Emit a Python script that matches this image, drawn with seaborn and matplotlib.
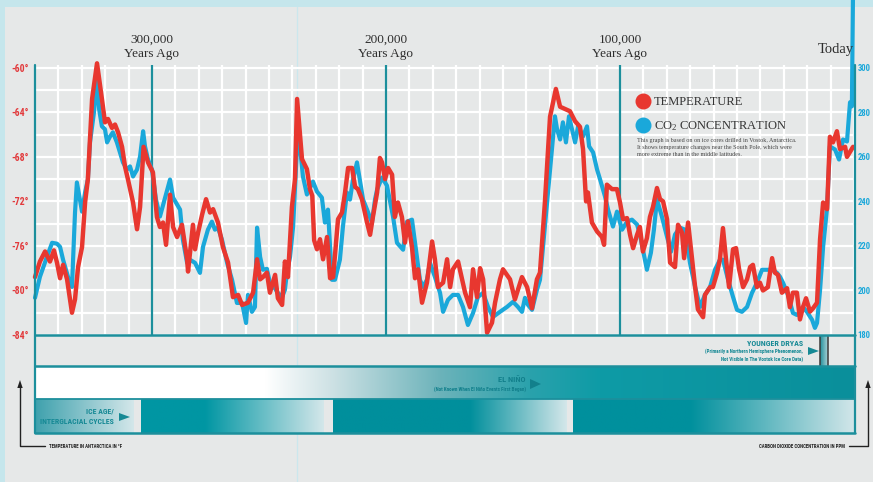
import os
import numpy as np
import matplotlib
matplotlib.use("Agg")
import matplotlib.pyplot as plt
import seaborn as sns
from matplotlib import font_manager as fm
from matplotlib.font_manager import FontProperties
from matplotlib.colors import to_rgb
from matplotlib.patches import Rectangle, Polygon
from matplotlib.lines import Line2D

# ---------------- data (thousands of years ago) ----------------
temp_years = [350.0, 347.9, 345.7, 343.6, 341.9, 340.6, 339.3, 338.0, 336.3, 334.2,
              332.9, 331.6, 329.9, 328.6, 327.4, 325.6, 323.5, 321.4, 320.1, 318.8,
              317.1, 315.8, 314.5, 312.8, 311.5, 310.3, 308.1, 306.4, 305.1, 303.6,
              301.7, 299.6, 297.9, 296.6, 295.3, 294.0, 292.3, 291.0, 289.3, 287.2,
              285.0, 284.6, 282.5, 281.6, 280.3, 278.6, 276.9, 275.2, 273.9, 271.8,
              269.7, 267.5, 265.4, 263.2, 261.5, 259.0, 256.8, 255.1, 253.8, 252.6,
              250.9, 249.6, 247.4, 246.2, 244.4, 243.2, 241.9, 240.2, 238.9, 238.0,
              235.9, 233.8, 232.5, 231.5, 230.7, 229.5, 228.2, 226.9, 225.2, 223.9,
              222.6, 220.5, 218.8, 217.5, 216.2, 214.5, 213.2, 212.0, 210.3, 208.1,
              206.8, 205.6, 203.8, 202.6, 201.7, 200.4, 199.1, 197.4, 196.2, 194.9,
              193.2, 191.9, 190.6, 188.9, 187.6, 186.3, 184.6, 182.5, 180.3, 179.1,
              177.8, 175.6, 173.9, 172.6, 171.4, 169.2, 167.5, 166.2, 164.1, 162.8,
              161.1, 159.8, 158.5, 156.8, 154.7, 153.4, 151.3, 150.0, 147.0, 144.9,
              141.9, 139.7, 137.6, 135.5, 134.2, 132.1, 129.9, 127.4, 125.6, 123.5,
              121.4, 119.2, 117.1, 115.8, 114.5, 113.7, 112.0, 109.8, 107.7, 106.8,
              105.6, 103.4, 101.3, 100.0, 98.7, 97.0, 95.7, 94.4, 92.7, 91.5,
              90.2, 88.5, 87.2, 85.9, 84.2, 82.9, 81.6, 79.9, 78.6, 76.5,
              75.2, 73.5, 72.6, 70.9, 69.2, 67.9, 66.7, 64.5, 63.7, 61.5,
              60.3, 58.5, 57.3, 56.0, 54.7, 53.4, 51.7, 50.4, 49.1, 47.4,
              45.7, 44.4, 43.2, 41.5, 40.2, 38.9, 36.8, 35.0, 33.8, 32.5,
              30.8, 28.6, 27.4, 26.1, 24.4, 23.1, 21.8, 20.5, 18.8, 17.5,
              15.8, 14.5, 13.2, 11.5, 10.3, 9.0, 7.3, 6.0, 3.8, 3.0, 0.4]
temp_values = [-78.8, -77.4, -76.5, -77.4, -76.4, -77.5, -78.9, -77.7, -79.0, -82.0,
               -80.8, -77.9, -76.1, -72.1, -70.0, -62.8, -59.6, -62.8, -64.9, -64.6,
               -65.4, -65.1, -65.8, -67.1, -68.9, -70.0, -72.1, -74.5, -72.5, -67.1,
               -68.5, -69.4, -73.4, -74.3, -73.9, -75.9, -71.4, -74.3, -75.2, -74.1,
               -77.2, -78.3, -74.1, -76.3, -74.8, -73.2, -71.8, -73.0, -72.7, -73.9,
               -76.1, -77.5, -80.6, -80.4, -81.3, -81.1, -80.2, -77.2, -79.0, -78.8,
               -78.4, -80.2, -78.6, -80.7, -81.3, -77.4, -78.8, -72.5, -70.0, -62.8,
               -68.2, -69.1, -70.9, -71.5, -75.5, -76.3, -75.4, -77.2, -75.2, -78.9,
               -78.8, -73.6, -73.0, -71.2, -69.0, -69.0, -70.7, -70.9, -71.8, -73.9,
               -75.0, -73.4, -71.2, -68.1, -68.5, -70.0, -69.0, -69.6, -73.4, -72.1,
               -73.4, -75.7, -73.8, -76.1, -78.9, -78.1, -81.1, -79.3, -75.6, -77.2,
               -79.7, -79.3, -77.2, -79.7, -78.1, -77.4, -79.0, -80.2, -81.5, -78.1,
               -80.6, -78.0, -79.0, -83.8, -82.9, -81.1, -79.0, -78.1, -79.0, -80.8,
               -78.8, -79.7, -81.6, -79.0, -78.4, -72.1, -64.4, -61.9, -63.5, -63.7,
               -63.9, -64.8, -65.3, -67.3, -72.0, -71.2, -73.9, -74.7, -75.2, -75.9,
               -70.5, -70.9, -70.9, -72.1, -73.6, -73.5, -75.0, -76.2, -75.0, -74.3,
               -76.5, -75.3, -73.4, -72.5, -70.8, -71.8, -72.0, -73.6, -77.5, -77.9,
               -74.1, -74.8, -77.1, -73.9, -77.2, -79.7, -81.7, -82.4, -80.4, -79.7,
               -79.7, -78.4, -77.2, -74.4, -77.2, -79.7, -76.3, -76.2, -78.1, -79.7,
               -79.0, -77.9, -77.7, -79.7, -79.3, -80.0, -79.7, -77.1, -78.4, -78.6,
               -80.2, -79.8, -81.5, -80.2, -80.2, -82.6, -81.5, -80.7, -81.9, -81.6,
               -81.1, -75.4, -72.1, -72.7, -66.2, -66.7, -65.7, -67.3, -67.1, -68.0, -67.1]

co2_years = [350.0, 347.9, 344.9, 342.7, 340.6, 339.3, 338.0, 335.9, 334.2, 332.9,
             332.1, 330.8, 329.9, 328.6, 327.4, 326.5, 324.8, 323.5, 322.6, 321.4,
             320.1, 319.2, 317.9, 316.7, 315.0, 313.7, 312.4, 310.7, 309.4, 308.1,
             306.4, 305.1, 303.8, 303.0, 301.7, 300.0, 298.3, 296.6, 292.3, 291.0,
             288.0, 286.8, 285.0, 283.8, 281.6, 279.5, 278.2, 276.1, 274.4, 273.1,
             271.8, 270.1, 267.9, 265.8, 263.7, 261.5, 259.8, 259.0, 257.3, 256.0,
             255.1, 253.8, 252.6, 250.9, 249.6, 247.9, 246.2, 244.4, 243.2, 242.3,
             241.0, 239.7, 237.6, 235.5, 233.8, 231.2, 229.5, 227.4, 226.1, 224.8,
             223.1, 221.8, 219.7, 218.4, 216.7, 215.4, 214.1, 212.4, 209.8, 208.1,
             206.0, 204.7, 203.8, 201.7, 199.6, 197.0, 195.3, 192.7, 191.0, 188.9,
             187.6, 185.5, 184.2, 182.5, 181.2, 179.1, 176.9, 175.6, 173.5, 171.4,
             169.2, 167.1, 165.0, 162.8, 160.7, 158.5, 156.4, 154.3, 151.3, 148.3,
             145.7, 143.6, 141.9, 140.6, 139.3, 137.6, 135.5, 134.2, 132.9, 129.9,
             127.8, 126.9, 125.6, 124.4, 123.1, 121.8, 120.5, 119.2, 117.9, 115.8,
             114.1, 113.2, 111.5, 109.8, 108.5, 106.4, 105.1, 103.0, 101.3, 99.1,
             97.0, 94.9, 92.7, 91.5, 88.5, 86.8, 85.5, 84.2, 82.1, 79.9,
             78.2, 76.5, 74.4, 72.2, 70.1, 67.9, 65.8, 63.7, 61.5, 59.4,
             57.3, 56.0, 53.8, 51.7, 50.0, 47.9, 45.7, 43.6, 41.5, 39.3,
             37.2, 35.0, 32.9, 31.6, 30.3, 28.2, 26.1, 24.4, 23.1, 21.8,
             20.1, 17.9, 16.7, 15.8, 14.5, 13.2, 11.5, 10.3, 8.1, 6.4,
             4.7, 3.0, 1.7, 0.9, 0.0]
co2_values = [196.7, 206.1, 215.1, 221.4, 221.0, 219.6, 213.8, 206.1, 201.6, 235.0,
              248.5, 240.8, 235.4, 244.0, 249.8, 266.5, 280.0, 295.8, 281.4, 273.7,
              272.4, 266.5, 269.2, 271.0, 266.5, 262.0, 257.5, 254.3, 255.7, 251.2,
              254.3, 260.2, 271.5, 264.7, 258.8, 254.3, 240.8, 233.2, 249.8, 241.7,
              236.3, 222.8, 212.4, 213.8, 212.4, 207.9, 219.6, 227.3, 230.9, 227.3,
              228.2, 222.8, 212.4, 204.8, 194.4, 194.4, 185.4, 198.0, 190.4, 192.6,
              228.2, 215.1, 209.3, 209.7, 203.4, 201.6, 198.9, 197.1, 200.3, 208.4,
              215.1, 228.7, 273.7, 251.2, 243.1, 248.9, 244.4, 241.7, 230.5, 236.3,
              204.8, 204.8, 213.8, 228.7, 244.0, 240.8, 249.8, 257.5, 240.8, 236.3,
              230.5, 240.8, 245.3, 250.7, 247.1, 233.2, 221.4, 218.3, 230.9, 231.8,
              221.4, 204.8, 201.6, 204.8, 212.4, 206.1, 198.9, 190.4, 195.8, 198.0,
              198.0, 192.6, 184.5, 189.9, 197.1, 198.9, 192.6, 188.1, 190.4, 192.6,
              194.9, 192.6, 190.4, 196.7, 193.5, 191.3, 200.3, 204.8, 219.6, 254.3,
              278.2, 272.4, 267.8, 275.5, 266.5, 278.2, 272.4, 266.5, 273.7, 269.2,
              273.7, 264.7, 262.0, 254.3, 249.8, 242.2, 236.3, 228.7, 235.4, 227.3,
              230.9, 231.8, 229.6, 225.1, 209.3, 216.9, 227.3, 240.8, 233.2, 224.1,
              217.4, 225.1, 228.2, 227.3, 212.4, 201.6, 192.6, 198.0, 201.6, 209.3,
              213.8, 213.8, 204.8, 197.1, 191.3, 190.4, 192.6, 198.9, 203.4, 209.3,
              209.3, 209.3, 207.9, 206.1, 203.4, 198.0, 189.9, 189.0, 190.4, 192.6,
              190.4, 186.8, 183.2, 185.4, 200.3, 219.6, 237.2, 264.7, 263.3, 258.8,
              267.8, 266.9, 284.5, 282.7, 380.0]

temp_ticks = [-84, -80, -76, -72, -68, -64, -60]
co2_ticks = [180, 200, 220, 240, 260, 280, 300]
year_marks = [300, 200, 100]
year_mark_labels = ["300,000", "200,000", "100,000"]

# decorative bands (thousands of years ago)
elnino_stops = [350, 251.7, 223.9, 176.9, 138.5, 108.5, -0.43]
elnino_colors = ['#ffffff', '#ffffff', '#cfe2e5', '#6cb3ba', '#2aa2ac', '#0e9ba6', '#0a8f9b']
ice_segments = [(350.0, 350.0, 308.1, '#3ea1ad'),
                (304.7, 277.4, 226.5, '#0096a3'),
                (222.6, 164.1, 122.6, '#008f9c'),
                (120.1, 70.1, -0.43, '#00909d')]
ice_light = '#d4e7ea'
younger_dryas = (14.5, 11.1)

# ---------------- style helpers ----------------
W, H = 873, 482
def fx(x):
    return x / W
def fy(y):
    return 1 - y / H

def find_font(prefixes):
    for pre in prefixes:
        for f in fm.fontManager.ttflist:
            if os.path.basename(f.fname).startswith(pre):
                return f.fname
    return None

narrow_path = find_font(['RobotoCondensed-Bold.', 'LiberationSansNarrow-Bold.',
                         'DejaVuSansCondensed-Bold.'])

def nfont(size):
    if narrow_path:
        return FontProperties(fname=narrow_path, size=size)
    return FontProperties(family='DejaVu Sans', weight='bold', size=size)

sns.set_style('white')
plt.rcParams['mathtext.fontset'] = 'custom'
plt.rcParams['mathtext.rm'] = 'Liberation Serif'
plt.rcParams['mathtext.it'] = 'Liberation Serif:italic'
SERIF = ['Liberation Serif', 'DejaVu Serif']

TEAL = '#1c8f9c'
TEAL_TXT = '#168995'
RED = '#e8372f'
BLUE = '#1aa8da'

fig = plt.figure(figsize=(W / 100, H / 100), dpi=100)
fig.patch.set_facecolor('#c5e6ec')
fig.add_artist(Rectangle((fx(5), 0), 1, fy(7), transform=fig.transFigure,
                         facecolor='#e6e8e8', edgecolor='none', zorder=-20))
fig.add_artist(Line2D([fx(297), fx(297)], [0, fy(7)], transform=fig.transFigure,
                      color='#cbe7ed', lw=0.9, zorder=-15))

# ---------------- main chart ----------------
ax = fig.add_axes([fx(35), fy(335), fx(854) - fx(35), (335 - 65) / H])
ax.set_facecolor('none')
axT = ax.twinx()

ax.set_xticks(np.arange(0, 351, 10))
ax.set_yticks(co2_ticks)
ax.set_yticks(np.arange(190, 300, 20), minor=True)
ax.grid(True, which='both', color='white', lw=1.6)
ax.set_axisbelow(True)

for k in year_marks:
    ax.axvline(k, color=TEAL, lw=1.6, zorder=1.5)

sns.lineplot(x=co2_years, y=co2_values, ax=ax, color=BLUE, lw=3.0, clip_on=False,
             sort=False, estimator=None, solid_joinstyle='round', zorder=3)
sns.lineplot(x=temp_years, y=temp_values, ax=axT, color=RED, lw=3.2, clip_on=False,
             sort=False, estimator=None, solid_joinstyle='round', zorder=3)

ax.set_xlim(350, 0)
ax.set_ylim(180, 180 + 5 * 24.25)
axT.set_ylim(-84, -59.75)
for a in (ax, axT):
    a.set_xlabel('')
    a.set_ylabel('')
    for s in a.spines.values():
        s.set_visible(False)

ax.tick_params(axis='x', length=0, labelbottom=False)
ax.yaxis.tick_right()
ax.set_yticks(co2_ticks)
ax.set_yticklabels([str(v) for v in co2_ticks])
ax.tick_params(axis='y', which='both', length=0, pad=2.5, labelcolor=BLUE)
for lbl in ax.get_yticklabels():
    lbl.set_fontproperties(nfont(6.2))

axT.yaxis.tick_left()
axT.set_yticks(temp_ticks)
axT.set_yticklabels([f"{v}°" for v in temp_ticks])
axT.tick_params(axis='y', length=0, pad=4.5, labelcolor='#e23a3c')
for lbl in axT.get_yticklabels():
    lbl.set_fontproperties(nfont(7.0))

xt = ax.get_xaxis_transform()
for k, lab in zip(year_marks, year_mark_labels):
    ax.text(k, (335 - 40) / 270, lab, transform=xt, ha='center', va='center',
            family=SERIF, size=9.5, color='#2e2e2e')
    ax.text(k, (335 - 54) / 270, 'Years Ago', transform=xt, ha='center', va='center',
            family=SERIF, size=9.5, color='#2e2e2e')
ax.text(0, (335 - 50) / 270, 'Today', transform=xt, ha='right', va='center',
        family=SERIF, size=10.5, color='#2e2e2e')

# legend
fig.add_artist(Line2D([fx(643)], [fy(101)], marker='o', ms=10.5, color=RED,
                      transform=fig.transFigure, lw=0))
fig.add_artist(Line2D([fx(643)], [fy(125)], marker='o', ms=10.5, color=BLUE,
                      transform=fig.transFigure, lw=0))
fig.text(fx(654), fy(102), 'TEMPERATURE', ha='left', va='center', family=SERIF,
         size=9, color='#333333')
fig.text(fx(654), fy(126), r'CO$_{\mathrm{2}}$ CONCENTRATION', ha='left', va='center',
         family=SERIF, size=9, color='#333333')
caption = ("This graph is based on on ice cores drilled in Vostok, Antarctica.\n"
           "It shows temperature changes near the South Pole, which were\n"
           "more extreme than in the middle latitudes.")
fig.text(fx(637), fy(138), caption, ha='left', va='top', family=SERIF, size=4.4,
         color='#444444', linespacing=1.45)

# ---------------- bands ----------------
bx = fig.add_axes([fx(35), fy(433), fx(855) - fx(35), 98 / H])
bx.axis('off')

def grad(stops, colors, x0, x1, n=600):
    xs = np.linspace(x0, x1, n)
    rgb = np.array([to_rgb(c) for c in colors])
    st = -np.array(stops, dtype=float)
    img = np.stack([np.interp(-xs, st, rgb[:, i]) for i in range(3)], axis=-1)
    return img[np.newaxis, :, :]

bx.imshow(grad(elnino_stops, elnino_colors, 350, -0.43), extent=[350, -0.43, 34, 67],
          aspect='auto', interpolation='bilinear')
for start, solid, end, dark in ice_segments:
    bx.imshow(grad([start, solid, end], [dark, dark, ice_light], start, end),
              extent=[start, end, 0, 34], aspect='auto', interpolation='bilinear')
yd0, yd1 = younger_dryas
bx.imshow(grad([yd0, yd1], ['#1f8e9a', '#a6d0d5'], yd0, yd1), extent=[yd0, yd1, 67, 98],
          aspect='auto', interpolation='bilinear')
for xv in younger_dryas:
    bx.plot([xv, xv], [67, 98], color='#3a3a3a', lw=1.1)
bx.set_xlim(350, -0.43)
bx.set_ylim(0, 98)

# frame lines
def fline(xs, ys, **kw):
    fig.add_artist(Line2D([fx(x) for x in xs], [fy(y) for y in ys],
                          transform=fig.transFigure, **kw))

fline([35, 35], [65, 433], color=TEAL, lw=1.6)
fline([855, 855], [65, 433], color=TEAL, lw=1.6)
fline([35, 855], [335, 335], color=TEAL, lw=1.8)
fline([35, 855], [366, 366], color=TEAL, lw=1.8)
fline([35, 855], [399, 399], color=TEAL, lw=1.3)
fline([35, 855], [433, 433], color=TEAL, lw=1.8)

def tri(pts, color):
    fig.add_artist(Polygon([[fx(x), fy(y)] for x, y in pts], closed=True,
                           transform=fig.transFigure, facecolor=color, edgecolor='none'))

fig.text(fx(803), fy(344), 'YOUNGER DRYAS', ha='right', va='center',
         fontproperties=nfont(5.8), color=TEAL_TXT)
fig.text(fx(803), fy(355.5), '(Primarily a Northern Hemisphere Phenomenon,\n'
         'Not Visible In The Vostok Ice Core Data)', ha='right', va='center',
         fontproperties=nfont(3.7), color=TEAL_TXT, linespacing=1.5)
tri([(808, 347), (808, 355), (819, 351)], TEAL_TXT)

fig.text(fx(526), fy(380), 'EL NIÑO', ha='right', va='center',
         fontproperties=nfont(6.0), color='#12808c')
fig.text(fx(526), fy(389), '(Not Known When El Niño Events First Began)', ha='right',
         va='center', fontproperties=nfont(3.7), color='#12808c')
tri([(530, 379), (530, 389), (541, 384)], '#12808c')

fig.text(fx(114), fy(411), 'ICE AGE/', ha='right', va='center',
         fontproperties=nfont(5.6), color=TEAL_TXT)
fig.text(fx(114), fy(421), 'INTERGLACIAL CYCLES', ha='right', va='center',
         fontproperties=nfont(5.6), color=TEAL_TXT)
tri([(119, 413), (119, 421), (130, 417)], TEAL_TXT)

# bottom axis notes
fline([45, 20, 20], [446, 446, 386], color='#222222', lw=1.0)
tri([(20, 380), (17.3, 388), (22.7, 388)], '#222222')
fig.text(fx(49), fy(446), 'TEMPERATURE IN ANTARCTICA IN °F', ha='left', va='center',
         fontproperties=nfont(3.5), color='#222222')
fline([849, 868, 868], [446, 446, 386], color='#222222', lw=1.0)
tri([(868, 380), (865.3, 388), (870.7, 388)], '#222222')
fig.text(fx(845), fy(446), 'CARBON DIOXIDE CONCENTRATION IN PPM', ha='right',
         va='center', fontproperties=nfont(3.5), color='#222222')

fig.savefig('out.png', dpi=100, facecolor=fig.get_facecolor())
